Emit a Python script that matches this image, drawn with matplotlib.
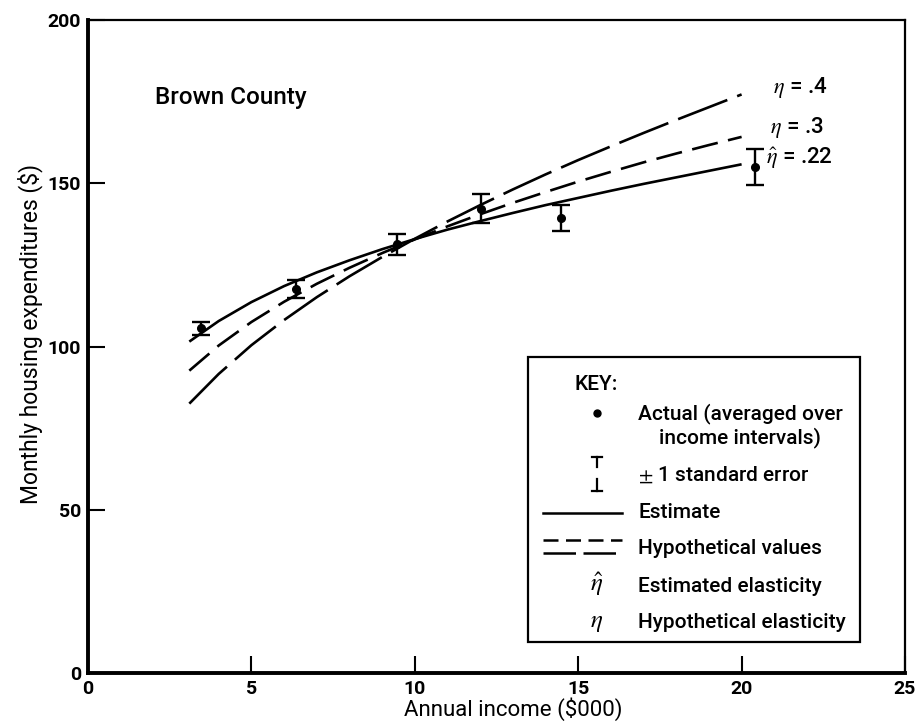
import numpy as np
import matplotlib.pyplot as plt
from matplotlib.patches import Rectangle

plt.rcParams['font.family'] = ['Roboto', 'Liberation Sans', 'DejaVu Sans']
plt.rcParams['font.weight'] = 'medium'
plt.rcParams['mathtext.fontset'] = 'stix'

# actual averages over income intervals (income in $000, expenditure in $)
income = [3.45, 6.35, 9.47, 12.02, 14.48, 20.4]
actual = [105.6, 117.6, 131.3, 142.2, 139.3, 154.9]
std_err = [2.0, 2.8, 3.3, 4.4, 4.0, 5.5]

# fitted / hypothetical curves
curve_x = [3.1, 4, 5, 6, 7, 8, 9, 10, 11, 12, 13, 14, 15, 16, 17, 18, 19, 20]
est_22 = [101.5, 107.8, 113.6, 118.5, 122.7, 126.4, 129.8, 132.9, 135.8, 138.4,
          140.9, 143.3, 145.5, 147.7, 149.8, 151.8, 153.8, 155.8]
hyp_3 = [92.6, 100.3, 107.5, 113.7, 119.2, 124.1, 128.6, 132.8, 136.8, 140.5,
         144.0, 147.3, 150.5, 153.5, 156.4, 159.1, 161.7, 164.2]
hyp_4 = [82.5, 91.6, 100.4, 108.1, 115.1, 121.5, 127.4, 133.0, 138.3, 143.3,
         148.1, 152.7, 157.1, 161.3, 165.4, 169.4, 173.3, 177.2]

fig = plt.figure(figsize=(9.16, 7.25), dpi=100)
ax = fig.add_axes([88/916, 1-673/725, 817/916, 653/725])

ax.plot(curve_x, est_22, color='black', lw=1.9, solid_capstyle='butt')
ax.plot(curve_x, hyp_3, color='black', lw=1.9, linestyle=(0, (10, 4)))
ax.plot(curve_x, hyp_4, color='black', lw=1.9, linestyle=(0, (20, 4)))

ax.errorbar(income, actual, yerr=std_err, fmt='o', color='black', ms=5.5,
            elinewidth=1.7, capsize=6.5, capthick=1.7, zorder=3)

ax.set_xlim(0, 25)
ax.set_ylim(0, 200)
ax.set_xticks([0, 5, 10, 15, 20, 25])
ax.set_yticks([0, 50, 100, 150, 200])
ax.tick_params(direction='in', length=12, width=1.5, labelsize=14, pad=5)
for lab in ax.get_xticklabels() + ax.get_yticklabels():
    lab.set_fontweight('bold')
for s in ['left', 'bottom']:
    ax.spines[s].set_linewidth(2.8)
for s in ['top', 'right']:
    ax.spines[s].set_linewidth(1.6)

ax.set_xlabel('Annual income ($000)', fontsize=16, va='center')
ax.xaxis.set_label_coords(0.521, -0.056)
ax.set_ylabel('Monthly housing expenditures ($)', fontsize=16.5, va='center')
ax.yaxis.set_label_coords(-0.071, 0.519)

ax.text(2.05, 176.4, 'Brown County', fontsize=17.5, va='center', ha='left')
ax.text(20.96, 179.2, r'$\eta$ = .4', fontsize=16, va='center', ha='left')
ax.text(20.87, 167.2, r'$\eta$ = .3', fontsize=16, va='center', ha='left')
ax.text(20.75, 157.7, r'$\hat{\eta}$ = .22', fontsize=16, va='center', ha='left')

# key box
def fx(px):
    return (px - 88) / 817

def fy(py):
    return (673 - py) / 653

T = ax.transAxes
ax.add_patch(Rectangle((fx(528), fy(642)), fx(860) - fx(528), fy(357) - fy(642),
                       transform=T, facecolor='white', edgecolor='black', lw=1.6, zorder=5))
kw = dict(transform=T, fontsize=15, va='center', ha='left', zorder=6)
ax.text(fx(575), fy(385), 'KEY:', **kw)
ax.plot([fx(597)], [fy(413)], 'o', color='black', ms=5, transform=T, zorder=6)
ax.text(fx(638), fy(425.5), 'Actual (averaged over\nincome intervals)',
        multialignment='center', **kw)
ax.plot([fx(592), fx(602)], [fy(457), fy(457)], color='black', lw=1.6, transform=T, zorder=6)
ax.plot([fx(597), fx(597)], [fy(457), fy(467)], color='black', lw=1.6, transform=T, zorder=6)
ax.plot([fx(592), fx(602)], [fy(491), fy(491)], color='black', lw=1.6, transform=T, zorder=6)
ax.plot([fx(597), fx(597)], [fy(479), fy(491)], color='black', lw=1.6, transform=T, zorder=6)
ax.text(fx(638), fy(475), '$\\pm$ 1 standard error', **kw)
ax.plot([fx(543), fx(622)], [fy(513), fy(513)], color='black', lw=1.8, transform=T, zorder=6)
ax.text(fx(638), fy(512), 'Estimate', **kw)
ax.plot([fx(543), fx(622)], [fy(540), fy(540)], color='black', lw=1.8,
        linestyle=(0, (6, 3)), transform=T, zorder=6)
ax.plot([fx(543), fx(622)], [fy(553), fy(553)], color='black', lw=1.8,
        linestyle=(0, (13, 3)), transform=T, zorder=6)
ax.text(fx(638), fy(549), 'Hypothetical values', **kw)
ax.text(fx(597), fy(584), r'$\hat{\eta}$', transform=T, fontsize=18, ha='center', va='center', zorder=6)
ax.text(fx(638), fy(586), 'Estimated elasticity', **kw)
ax.text(fx(597), fy(622), r'$\eta$', transform=T, fontsize=18, ha='center', va='center', zorder=6)
ax.text(fx(638), fy(622), 'Hypothetical elasticity', **kw)

fig.savefig('out.png', dpi=100)
